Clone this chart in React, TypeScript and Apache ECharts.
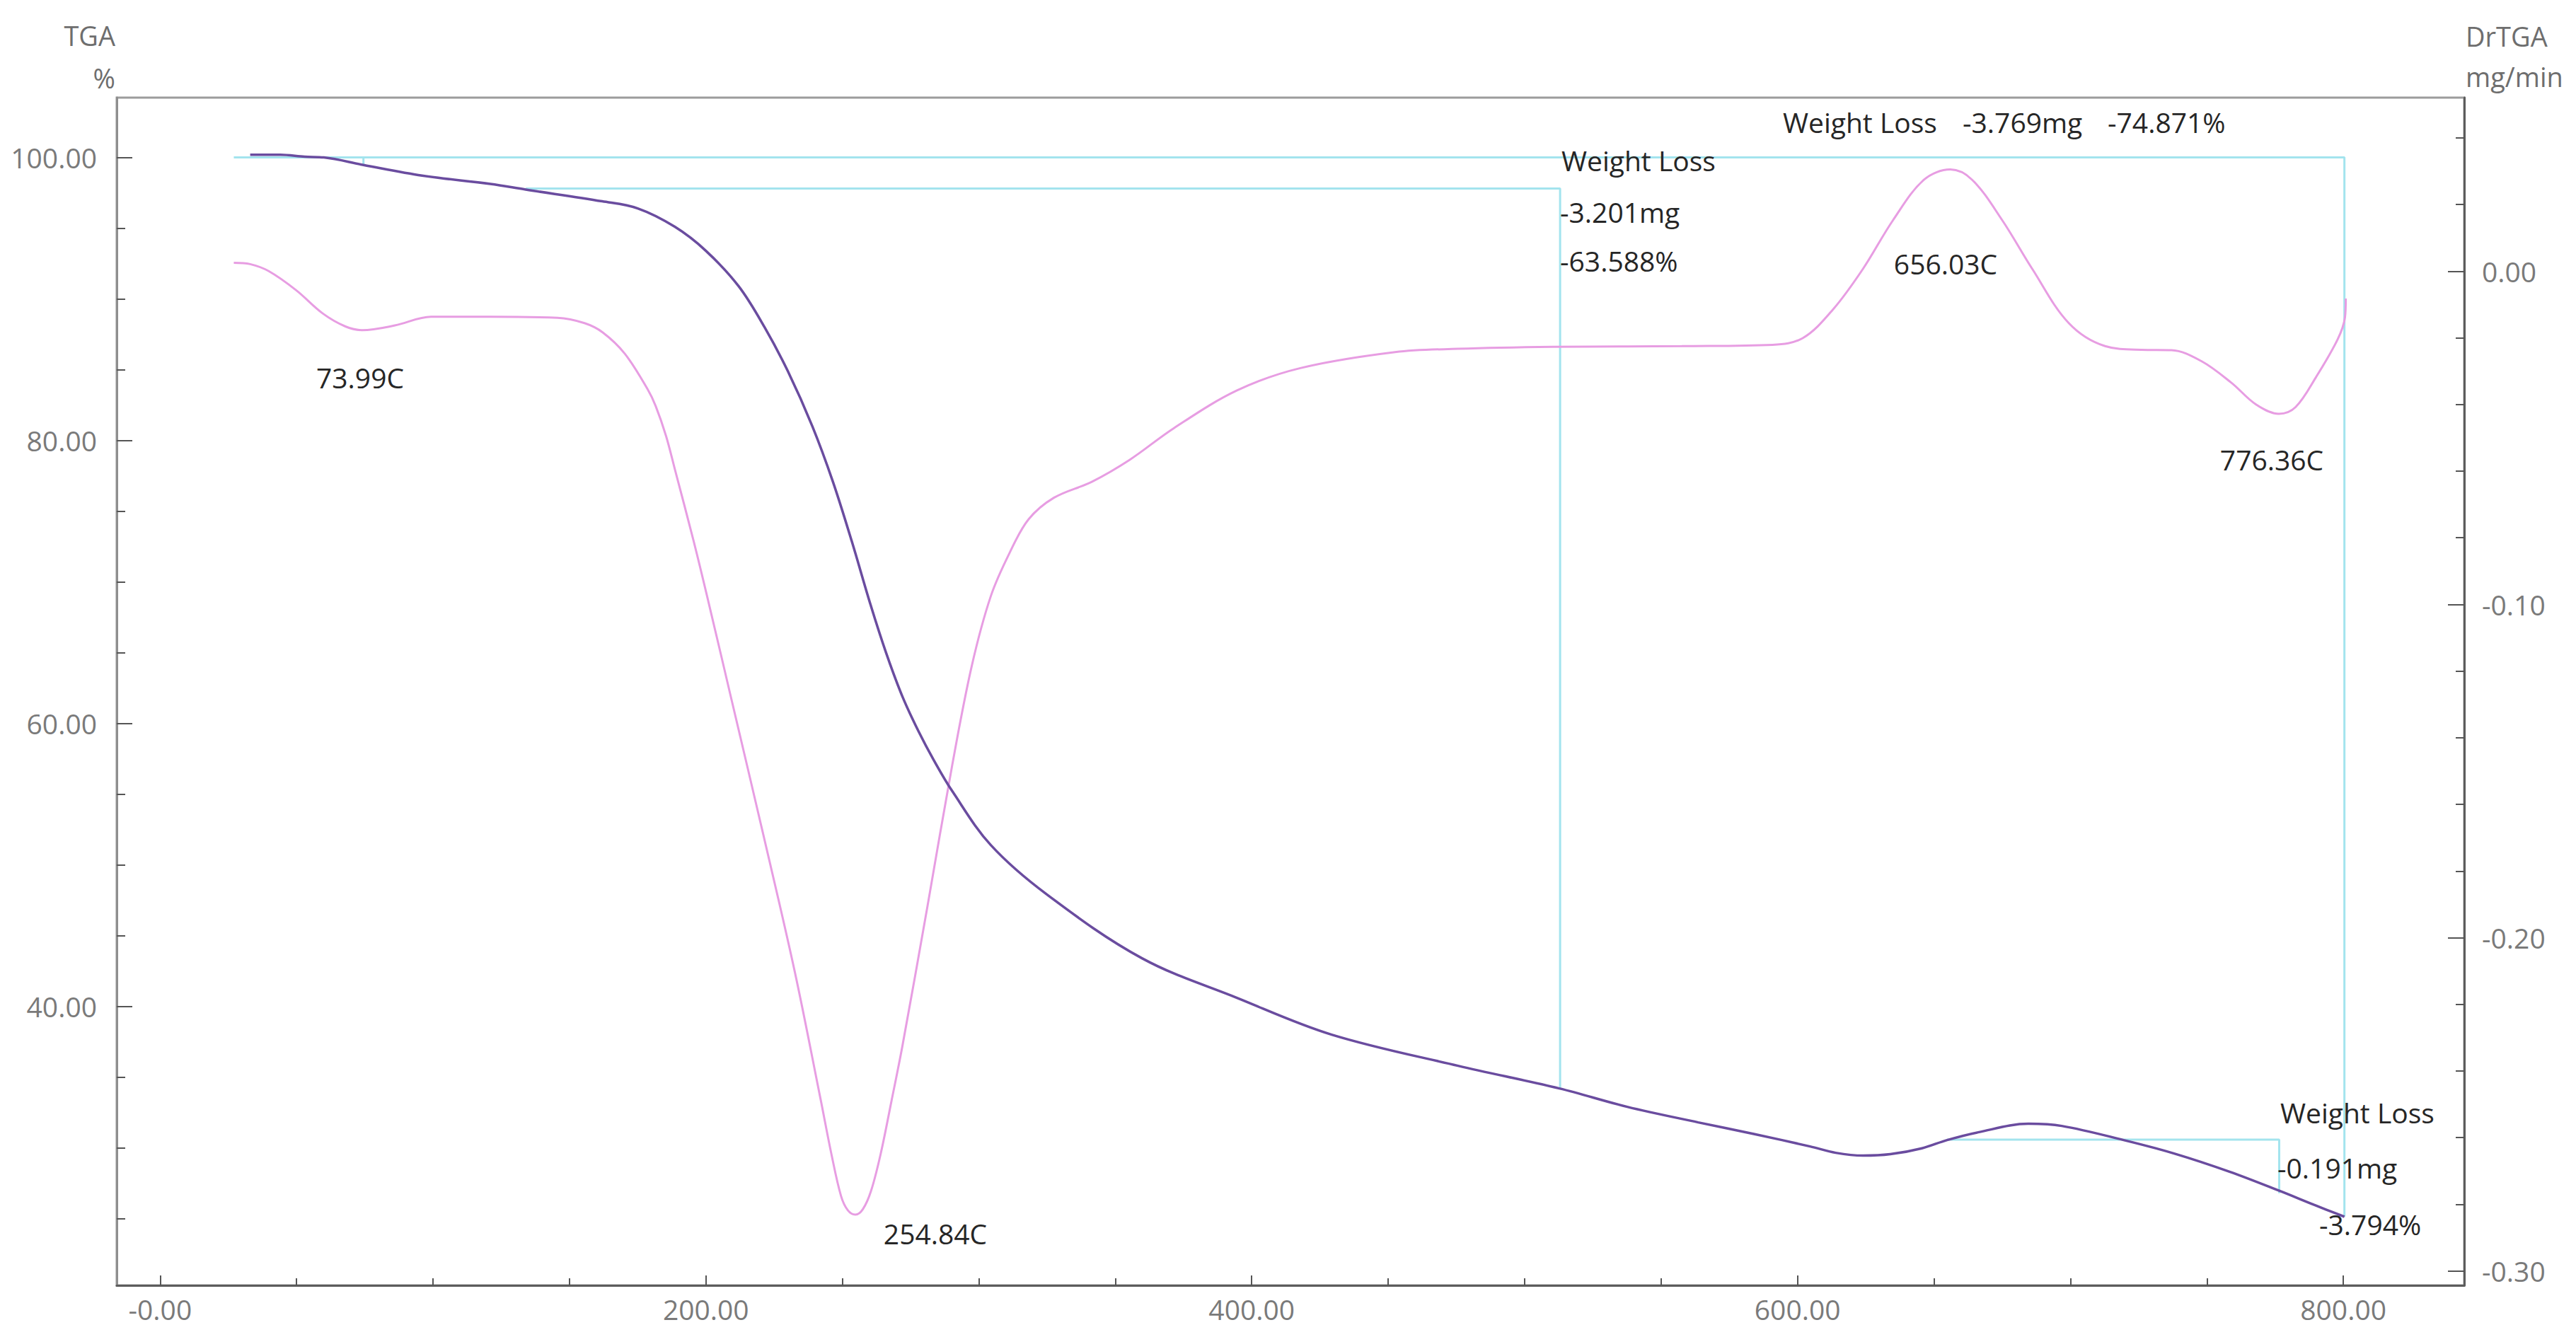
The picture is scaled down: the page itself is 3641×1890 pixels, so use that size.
import React, { useEffect, useRef } from "react";
import * as echarts from "echarts";

// ---------- data ----------
const tgaTemp = [33, 44, 53, 60, 74.5, 96, 121, 134, 162, 175, 188.6, 200, 212, 221.5, 230, 239, 246.5, 253.4, 260.3, 266, 272, 278, 283.5, 290.3, 304.4, 325, 359.8, 394.6, 429.3, 475.6, 512.7, 537.6, 563.6, 584, 604.6, 614, 624, 634, 645.6, 654.8, 666.2, 684.6, 696.8, 719.5, 738, 758.5, 776.5, 789.3, 800.4];
const tgaValue = [100.19, 100.19, 100.05, 100.0, 99.47, 98.72, 98.13, 97.73, 96.9, 96.4, 95.1, 93.4, 90.9, 88.0, 84.9, 81.0, 77.1, 72.9, 68.4, 65.0, 61.9, 59.4, 57.4, 55.2, 51.4, 47.9, 43.4, 40.6, 38.0, 35.8, 34.2, 32.9, 31.8, 30.98, 30.1, 29.65, 29.45, 29.55, 29.97, 30.55, 31.1, 31.7, 31.55, 30.55, 29.6, 28.3, 26.97, 25.97, 25.13];

const drTemp = [27, 33, 39.8, 49.8, 59.6, 67.9, 74, 86, 99.3, 120.8, 145.6, 155.5, 162.2, 170.3, 178.6, 181.6, 185.4, 188.6, 195.5, 201, 209.5, 221, 232.5, 241.9, 246, 249.5, 252, 254.8, 257.5, 260.5, 264, 268, 272, 281.2, 290.3, 297.4, 304.4, 311.3, 318.2, 327.5, 341.4, 355.3, 371.5, 394.6, 417.8, 452.5, 475.6, 510.3, 537.6, 557.6, 590.8, 601.9, 613, 624, 635, 646.3, 656, 664, 675, 686, 699.4, 712.7, 726, 737, 748, 759, 768, 776.4, 782.5, 790, 797.9, 800.6, 800.9];
const drValue = [0.0025, 0.0021, 0.0, -0.0057, -0.0127, -0.0166, -0.0177, -0.0163, -0.0137, -0.0137, -0.014, -0.0156, -0.0184, -0.0248, -0.0354, -0.0405, -0.0495, -0.0594, -0.081, -0.0995, -0.129, -0.169, -0.21, -0.248, -0.265, -0.2775, -0.2818, -0.2831, -0.2815, -0.276, -0.265, -0.249, -0.2325, -0.1905, -0.148, -0.1185, -0.0975, -0.0845, -0.0745, -0.068, -0.0632, -0.0566, -0.0471, -0.0358, -0.0291, -0.0243, -0.0233, -0.0227, -0.0226, -0.0225, -0.0221, -0.0201, -0.0115, 0.0007, 0.0153, 0.0274, 0.0305, 0.0274, 0.0153, 0.0007, -0.0156, -0.0225, -0.0236, -0.0237, -0.027, -0.0335, -0.04, -0.0428, -0.0408, -0.0318, -0.0205, -0.0139, -0.0082];

// weight-loss brackets (TGA axis): start temp, end temp, level, final value
const wlStartT = [27, 134, 654.8];
const wlEndT = [800.4, 513, 776.5];
const wlLevel = [100.0, 97.8, 30.58];
const wlFinal = [25.13, 34.21, 26.79];
const wlMarkT = 74.5;
const wlMarkFrom = 100.0;
const wlMarkTo = 99.47;

// axes
const xMin = -15.9;
const xMax = 844.3;
const xTickValues = [0, 200, 400, 600, 800];
const xTickLabels = ["-0.00", "200.00", "400.00", "600.00", "800.00"];
const xMinorTicks = [50, 100, 150, 250, 300, 350, 450, 500, 550, 650, 700, 750];
const tgaMin = 20.28;
const tgaMax = 104.23;
const tgaTickValues = [40, 60, 80, 100];
const tgaTickLabels = ["40.00", "60.00", "80.00", "100.00"];
const tgaMinorTicks = [25, 30, 35, 45, 50, 55, 65, 70, 75, 85, 90, 95];
const drMin = -0.30433;
const drMax = 0.05207;
const drTickValues = [-0.3, -0.2, -0.1, 0];
const drTickLabels = ["-0.30", "-0.20", "-0.10", "0.00"];
const drMinorTicks = [-0.28, -0.26, -0.24, -0.22, -0.18, -0.16, -0.14, -0.12, -0.08, -0.06, -0.04, -0.02, 0.02, 0.04];

// texts
const peakLabels = ["73.99C", "254.84C", "656.03C", "776.36C"];
const totalLossTexts = ["Weight Loss", "-3.769mg", "-74.871%"];
const midLossTexts = ["Weight Loss", "-3.201mg", "-63.588%"];
const endLossTexts = ["Weight Loss", "-0.191mg", "-3.794%"];

const FONT = "'Segoe UI', 'Open Sans', 'Noto Sans', sans-serif";
const LABEL_COLOR = "#7a7a7a";
const TEXT_COLOR = "#262626";
const CYAN = "#a3e4ee";

function txt(text: string, x: number, y: number, align: string, color: string, size = 39) {
  return {
    type: "text",
    x,
    y,
    silent: true,
    z: 100,
    style: {
      text,
      fill: color,
      font: `${size}px ${FONT}`,
      fontSize: size,
      fontFamily: FONT,
      textAlign: align,
      align,
      textVerticalAlign: "middle",
      verticalAlign: "middle",
    },
  };
}

function labelFor(values: number[], labels: string[]) {
  return (v: number) => {
    let best = 0;
    for (let i = 0; i < values.length; i++) {
      if (Math.abs(values[i] - v) < Math.abs(values[best] - v)) best = i;
    }
    return labels[best];
  };
}

export default function App() {
  const ref = useRef<HTMLDivElement>(null);

  useEffect(() => {
    document.body.style.margin = "0";
    if (!ref.current) return;
    const chart = echarts.init(ref.current, null, { renderer: "svg" });

    const tgaData = tgaTemp.map((t, i) => [t, tgaValue[i]]);
    const drData = drTemp.map((t, i) => [t, drValue[i]]);

    const bracketSeries = wlStartT.map((s, i) => ({
      type: "line",
      name: "wl" + i,
      xAxisIndex: 0,
      yAxisIndex: 0,
      data: [
        [s, wlLevel[i]],
        [wlEndT[i], wlLevel[i]],
        [wlEndT[i], wlFinal[i]],
      ],
      showSymbol: false,
      silent: true,
      z: 1,
      lineStyle: { color: CYAN, width: 3 },
    }));

    const axisFont = { fontSize: 39, fontFamily: FONT, color: LABEL_COLOR };

    const option: any = {
      animation: false,
      backgroundColor: "#ffffff",
      grid: {
        left: 165,
        right: 158,
        top: 138,
        bottom: 73,
        show: true,
        borderColor: "#9c9c9c",
        borderWidth: 3,
        backgroundColor: "#ffffff",
      },
      xAxis: [
        {
          type: "value",
          min: xMin,
          max: xMax,
          position: "bottom",
          axisLine: { show: true, onZero: false, lineStyle: { color: "#5c5c5c", width: 3 } },
          axisTick: {
            show: true,
            inside: true,
            length: 14,
            customValues: xTickValues,
            lineStyle: { color: "#555555", width: 2 },
          },
          axisLabel: {
            show: true,
            customValues: xTickValues,
            formatter: labelFor(xTickValues, xTickLabels),
            margin: 14,
            ...axisFont,
          },
          splitLine: { show: false },
        },
        {
          type: "value",
          min: xMin,
          max: xMax,
          position: "bottom",
          axisLine: { show: false, onZero: false },
          axisTick: {
            show: true,
            inside: true,
            length: 10,
            customValues: xMinorTicks,
            lineStyle: { color: "#555555", width: 2 },
          },
          axisLabel: { show: false },
          splitLine: { show: false },
        },
      ],
      yAxis: [
        {
          type: "value",
          min: tgaMin,
          max: tgaMax,
          position: "left",
          axisLine: { show: true, onZero: false, lineStyle: { color: "#8e8e8e", width: 3 } },
          axisTick: {
            show: true,
            inside: true,
            length: 22,
            customValues: tgaTickValues,
            lineStyle: { color: "#555555", width: 2 },
          },
          axisLabel: {
            show: true,
            customValues: tgaTickValues,
            formatter: labelFor(tgaTickValues, tgaTickLabels),
            margin: 28,
            ...axisFont,
          },
          splitLine: { show: false },
        },
        {
          type: "value",
          min: tgaMin,
          max: tgaMax,
          position: "left",
          axisLine: { show: false, onZero: false },
          axisTick: {
            show: true,
            inside: true,
            length: 12,
            customValues: tgaMinorTicks,
            lineStyle: { color: "#555555", width: 2 },
          },
          axisLabel: { show: false },
          splitLine: { show: false },
        },
        {
          type: "value",
          min: drMin,
          max: drMax,
          position: "right",
          axisLine: { show: true, onZero: false, lineStyle: { color: "#5c5c5c", width: 3 } },
          axisTick: {
            show: true,
            inside: true,
            length: 23,
            customValues: drTickValues,
            lineStyle: { color: "#555555", width: 2 },
          },
          axisLabel: {
            show: true,
            customValues: drTickValues,
            formatter: labelFor(drTickValues, drTickLabels),
            margin: 25,
            ...axisFont,
          },
          splitLine: { show: false },
        },
        {
          type: "value",
          min: drMin,
          max: drMax,
          position: "right",
          axisLine: { show: false, onZero: false },
          axisTick: {
            show: true,
            inside: true,
            length: 12,
            customValues: drMinorTicks,
            lineStyle: { color: "#555555", width: 2 },
          },
          axisLabel: { show: false },
          splitLine: { show: false },
        },
      ],
      series: [
        ...bracketSeries,
        {
          type: "line",
          name: "wlMark",
          xAxisIndex: 0,
          yAxisIndex: 0,
          data: [
            [wlMarkT, wlMarkFrom],
            [wlMarkT, wlMarkTo],
          ],
          showSymbol: false,
          silent: true,
          z: 1,
          lineStyle: { color: CYAN, width: 3 },
        },
        {
          type: "line",
          name: "DrTGA",
          xAxisIndex: 0,
          yAxisIndex: 2,
          data: drData,
          showSymbol: false,
          smooth: 0.35,
          z: 3,
          lineStyle: { color: "#e79de2", width: 3 },
        },
        {
          type: "line",
          name: "TGA",
          xAxisIndex: 0,
          yAxisIndex: 0,
          data: tgaData,
          showSymbol: false,
          smooth: 0.35,
          z: 4,
          lineStyle: { color: "#6a4c9f", width: 3.5 },
        },
      ],
      graphic: [
        txt("TGA", 163, 50, "right", "#6e6e6e", 38),
        txt("%", 163, 110, "right", "#6e6e6e", 38),
        txt("DrTGA", 3485, 51, "left", "#6e6e6e", 38),
        txt("mg/min", 3485, 108, "left", "#6e6e6e", 38),
        txt(peakLabels[0], 509, 533, "center", TEXT_COLOR),
        txt(peakLabels[1], 1322, 1743, "center", TEXT_COLOR),
        txt(peakLabels[2], 2750, 372, "center", TEXT_COLOR),
        txt(peakLabels[3], 3211, 649, "center", TEXT_COLOR),
        txt(totalLossTexts[0], 2520, 172, "left", TEXT_COLOR),
        txt(totalLossTexts[1], 2774, 172, "left", TEXT_COLOR),
        txt(totalLossTexts[2], 2979, 172, "left", TEXT_COLOR),
        txt(midLossTexts[0], 2207, 226, "left", TEXT_COLOR),
        txt(midLossTexts[1], 2205, 299, "left", TEXT_COLOR),
        txt(midLossTexts[2], 2205, 368, "left", TEXT_COLOR),
        txt(endLossTexts[0], 3223, 1572, "left", TEXT_COLOR),
        txt(endLossTexts[1], 3219, 1650, "left", TEXT_COLOR),
        txt(endLossTexts[2], 3278, 1730, "left", TEXT_COLOR),
      ],
    };

    chart.setOption(option);
    return () => chart.dispose();
  }, []);

  return (
    <div
      ref={ref}
      style={{ position: "absolute", left: 0, top: 0, width: 3641, height: 1890, background: "#fff" }}
    />
  );
}
